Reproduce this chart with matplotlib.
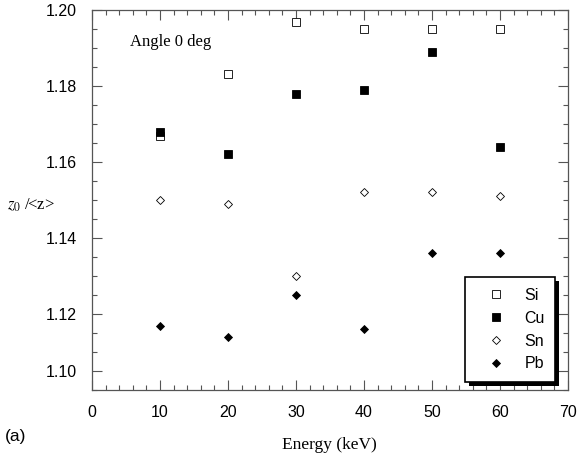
import matplotlib
matplotlib.use('Agg')
import matplotlib.pyplot as plt
import matplotlib.patches as patches
from matplotlib.ticker import FixedLocator, MultipleLocator

plt.rcParams['font.family'] = 'Liberation Sans'
plt.rcParams['mathtext.fontset'] = 'stix'

energy = [10, 20, 30, 40, 50, 60]
si = [1.1668, 1.1832, 1.1969, 1.1949, 1.1949, 1.1949]
cu = [1.1678, 1.1620, 1.1778, 1.1789, 1.1889, 1.1639]
sn = [1.1500, 1.1489, 1.1300, 1.1520, 1.1522, 1.1510]
pb = [1.1169, 1.1140, 1.1250, 1.1160, 1.1360, 1.1360]

# y tick positions and their printed labels (bottom label sits one minor step up)
ytick_pos = [1.105, 1.12, 1.14, 1.16, 1.18, 1.20]
ytick_lab = ['1.10', '1.12', '1.14', '1.16', '1.18', '1.20']

axis_col = '#555555'

fig = plt.figure(figsize=(5.77, 4.57), dpi=100)
ax = fig.add_axes([92 / 577, 67 / 457, 476 / 577, 380 / 457])

ax.plot(energy, si, 's', ms=5.5, mfc='white', mec='black', mew=0.6, label='Si', zorder=3)
ax.plot(energy, cu, 's', ms=6, mfc='black', mec='black', mew=0.6, label='Cu', zorder=4)
ax.plot(energy, sn, 'D', ms=3.6, mfc='white', mec='black', mew=0.6, label='Sn', zorder=3)
ax.plot(energy, pb, 'D', ms=3.9, mfc='black', mec='black', mew=0.6, label='Pb', zorder=3)

ax.set_xlim(0, 70)
ax.set_ylim(1.10, 1.20)
ax.xaxis.set_major_locator(MultipleLocator(10))
ax.xaxis.set_minor_locator(MultipleLocator(2))
ax.yaxis.set_major_locator(FixedLocator(ytick_pos))
ax.set_yticklabels(ytick_lab)
ax.yaxis.set_minor_locator(MultipleLocator(0.005))

for sp in ax.spines.values():
    sp.set_color(axis_col)
    sp.set_linewidth(0.9)
ax.tick_params(which='both', direction='in', top=True, right=True,
               color=axis_col, width=0.8, labelsize=11.5, labelcolor='black')
ax.tick_params(which='major', length=7)
ax.tick_params(which='minor', length=3.5)
ax.tick_params(axis='y', pad=11)
ax.tick_params(axis='x', pad=11)

ax.text(0.08, 0.916, 'Angle 0 deg', transform=ax.transAxes,
        family='Liberation Serif', fontsize=12, ha='left', va='center')

fig.text(329 / 577, 1 - 445 / 457, 'Energy (keV)', family='Liberation Serif',
         fontsize=12.5, ha='center', va='center')
fig.text(7 / 577, 1 - 205 / 457, r'$z_0$ /<z>', family='Liberation Serif',
         fontsize=12, ha='left', va='center')
fig.text(5 / 577, 1 - 436 / 457, '(a)', fontsize=12.5, ha='left', va='center')

leg = ax.legend(loc='lower right', bbox_to_anchor=(0.9727, 0.0218), borderaxespad=0,
                fontsize=11.5, numpoints=1, handlelength=2.72, handletextpad=0.39,
                borderpad=0.64, labelspacing=0.5, fancybox=False, framealpha=1,
                edgecolor='black')
leg.get_frame().set_linewidth(1.2)

# solid drop shadow under the legend box
fig.canvas.draw()
bb = leg.get_window_extent()
inv = ax.transAxes.inverted()
x0, y0 = inv.transform((bb.x0 + 4, bb.y0 - 4))
x1, y1 = inv.transform((bb.x1 + 4, bb.y1 - 4))
ax.add_patch(patches.Rectangle((x0, y0), x1 - x0, y1 - y0, transform=ax.transAxes,
                               facecolor='black', edgecolor='none', zorder=4.9,
                               clip_on=False))

fig.savefig('out.png', dpi=100)
